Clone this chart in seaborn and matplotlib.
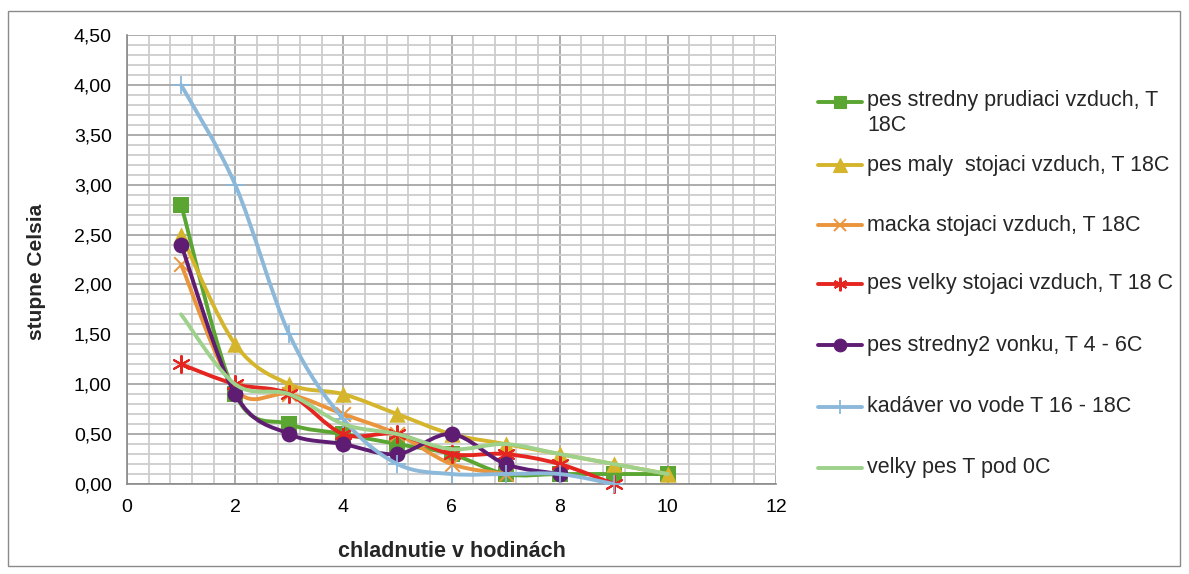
import numpy as np
import pandas as pd
import matplotlib
matplotlib.use("Agg")
import matplotlib.pyplot as plt
import seaborn as sns
from matplotlib.path import Path
from matplotlib.patches import PathPatch, Rectangle
from matplotlib.lines import Line2D
from matplotlib.ticker import MultipleLocator, FuncFormatter

# --- data: temperature drop per hour of cooling ---
hours = [1, 2, 3, 4, 5, 6, 7, 8, 9, 10]
pes_stredny_prudiaci = [2.8, 0.9, 0.6, 0.5, 0.4, 0.3, 0.1, 0.1, 0.1, 0.1]
pes_maly = [2.5, 1.4, 1.0, 0.9, 0.7, 0.5, 0.4, 0.3, 0.2, 0.1]
macka = [2.2, 0.95, 0.9, 0.7, 0.5, 0.2, 0.1]
pes_velky = [1.2, 1.0, 0.9, 0.5, 0.5, 0.3, 0.3, 0.2, 0.0]
pes_stredny2 = [2.4, 0.9, 0.5, 0.4, 0.3, 0.5, 0.2, 0.1]
kadaver = [4.0, 3.0, 1.5, 0.65, 0.2, 0.1, 0.1, 0.1, 0.0]
velky_pes = [1.7, 1.0, 0.9, 0.6, 0.5, 0.35, 0.4, 0.3, 0.2, 0.1]

labels = [
    "pes stredny prudiaci vzduch, T\n18C",
    "pes maly  stojaci vzduch, T 18C",
    "macka stojaci vzduch, T 18C",
    "pes velky stojaci vzduch, T 18 C",
    "pes stredny2 vonku, T 4 - 6C",
    "kadáver vo vode T 16 - 18C",
    "velky pes T pod 0C",
]
x_ticks = [0, 2, 4, 6, 8, 10, 12]
y_ticks = [0.0, 0.5, 1.0, 1.5, 2.0, 2.5, 3.0, 3.5, 4.0, 4.5]

series = [pes_stredny_prudiaci, pes_maly, macka, pes_velky, pes_stredny2, kadaver, velky_pes]
colors = ["#5BA532", "#D5B52C", "#EA943C", "#E5251F", "#5E1C72", "#8CB8DA", "#9ED18B"]
# marker, size (pt^2), linewidth
markers = [("s", 120, 0), ("^", 140, 0), ("x", 110, 1.4), ((6, 2, 0), 150, 1.5),
           ("o", 130, 0), ("+", 150, 1.3), (None, 0, 0)]

sns.set_style("white")
plt.rcParams["font.family"] = ["Liberation Sans", "DejaVu Sans"]

W, H = 1189, 574
fig = plt.figure(figsize=(W / 100, H / 100), dpi=100)

# chart frame
fig.add_artist(Rectangle((8 / W, 1 - 566 / H), 1172 / W, 555 / H, transform=fig.transFigure,
                         fill=False, edgecolor="#8a8a8a", lw=1.0))

ax = fig.add_axes([127 / W, 1 - 484 / H, 649 / W, 449 / H])
ax.set_xlim(0, 12)
ax.set_ylim(0, 4.5)


def smooth_path(xs, ys):
    """Cubic Bezier path through the points (Catmull-Rom style tangents)."""
    pts = np.column_stack([xs, ys]).astype(float)
    n = len(pts)
    verts = [pts[0]]
    codes = [Path.MOVETO]
    for i in range(n - 1):
        p0 = pts[max(i - 1, 0)]
        p1 = pts[i]
        p2 = pts[i + 1]
        p3 = pts[min(i + 2, n - 1)]
        c1 = p1 + (p2 - p0) / 6.0
        c2 = p2 - (p3 - p1) / 6.0
        verts += [c1, c2, p2]
        codes += [Path.CURVE4] * 3
    return Path(verts, codes)


for i, (vals, col, (mk, ms, mlw)) in enumerate(zip(series, colors, markers)):
    xs = hours[:len(vals)]
    patch = PathPatch(smooth_path(xs, vals), fill=False, edgecolor=col, lw=2.8,
                      capstyle="round", joinstyle="round", zorder=3 + i)
    ax.add_patch(patch)
    if mk is not None:
        df = pd.DataFrame({"hodiny": xs, "stupne": vals})
        sns.scatterplot(data=df, x="hodiny", y="stupne", marker=mk, s=ms, color=col,
                        linewidth=mlw, ax=ax, zorder=3.5 + i, clip_on=False, legend=False)

# axes styling
ax.set_xticks(x_ticks)
ax.set_yticks(y_ticks)
ax.xaxis.set_minor_locator(MultipleLocator(0.4))
ax.yaxis.set_minor_locator(MultipleLocator(0.1))
ax.yaxis.set_major_formatter(FuncFormatter(lambda v, p: f"{v:.2f}".replace(".", ",")))
ax.xaxis.set_major_formatter(FuncFormatter(lambda v, p: f"{v:.0f}"))
ax.grid(which="minor", color="#cdcdcd", lw=1.3, zorder=0)
ax.grid(which="major", color="#a6a6a6", lw=1.3, zorder=0)
ax.set_axisbelow(True)
for s in ["top", "right"]:
    ax.spines[s].set_visible(False)
for s in ["left", "bottom"]:
    ax.spines[s].set_color("#8a8a8a")
    ax.spines[s].set_linewidth(1.2)
ax.tick_params(which="major", direction="out", length=4, width=1.1, color="#8a8a8a",
               labelsize=14, labelcolor="black", pad=7)
ax.tick_params(which="minor", length=0)

ax.set_xlabel("chladnutie v hodinách", fontsize=15.5, fontweight="bold")
ax.set_ylabel("stupne Celsia", fontsize=15, fontweight="bold")
ax.xaxis.set_label_coords(0.5, -0.127)
ax.yaxis.set_label_coords(-0.125, 0.472)

# legend drawn at the right side of the chart
leg_y = [102, 165, 225, 284, 345, 407, 468]
for i, (lab, col, (mk, ms, mlw), yy) in enumerate(zip(labels, colors, markers, leg_y)):
    yf = 1 - yy / H
    fig.add_artist(Line2D([818 / W, 862 / W], [yf, yf], transform=fig.transFigure,
                          color=col, lw=2.8, solid_capstyle="round"))
    if mk is not None:
        fig.add_artist(Line2D([840 / W], [yf], transform=fig.transFigure, color=col,
                              marker=mk, markersize=np.sqrt(ms) * 0.8,
                              markeredgewidth=mlw if mlw else 0.8, linestyle="none"))
    if "\n" in lab:
        fig.text(867 / W, 1 - (yy - 12) / H, lab, fontsize=15.5, va="top", ha="left",
                 linespacing=1.25)
    else:
        fig.text(867 / W, yf, lab, fontsize=15.5, va="center", ha="left")

fig.savefig("out.png", dpi=100)
